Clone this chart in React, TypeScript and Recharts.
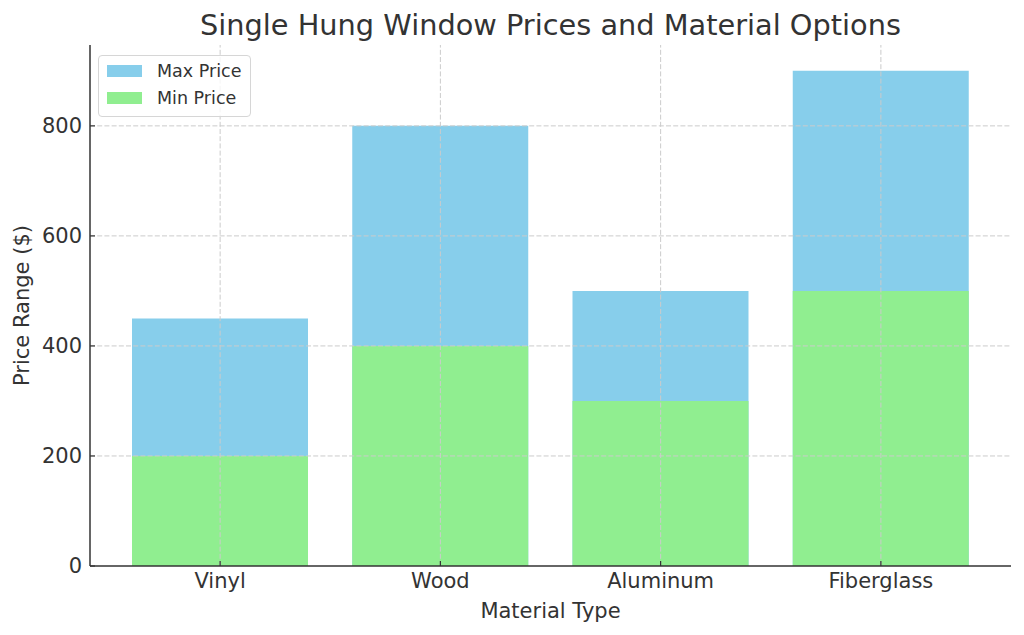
import React from 'react'
import {
  BarChart,
  Bar,
  XAxis,
  YAxis,
  ReferenceLine
} from 'recharts'

const materials = ['Vinyl', 'Wood', 'Aluminum', 'Fiberglass']
const maxPrices = [450, 800, 500, 900]
const minPrices = [200, 400, 300, 500]
const yTicks = [0, 200, 400, 600, 800]

const data = materials.map((name, i) => ({
  name,
  max: maxPrices[i],
  min: minPrices[i]
}))

const FONT = 'DejaVu Sans, sans-serif'
const TEXT = '#333333'
const GRID = '#cbcbcb'

const legendItems = [
  { label: 'Max Price', color: '#87CEEB' },
  { label: 'Min Price', color: '#90EE90' }
]

function LegendBox() {
  return (
    <div
      style={{
        position: 'absolute',
        left: 98,
        top: 55,
        width: 135,
        border: '1px solid #d6d6d6',
        borderRadius: 4,
        background: 'rgba(255,255,255,0.8)',
        padding: '1px 8px 5px 8px',
        fontFamily: FONT,
        fontSize: 17.5,
        color: TEXT,
        zIndex: 2
      }}
    >
      {legendItems.map((it) => (
        <div key={it.label} style={{ display: 'flex', alignItems: 'center', height: 27 }}>
          <span style={{ width: 35, height: 12, background: it.color, marginRight: 15, flexShrink: 0 }} />
          <span style={{ whiteSpace: 'nowrap' }}>{it.label}</span>
        </div>
      ))}
    </div>
  )
}

export default function App() {
  return (
    <div style={{ position: 'relative', width: 1024, height: 635, background: '#fff' }}>
      <style>{`body{margin:0}`}</style>
      <div
        style={{
          position: 'absolute',
          top: 8,
          left: 90,
          width: 921,
          textAlign: 'center',
          fontFamily: FONT,
          fontSize: 28.8,
          color: TEXT
        }}
      >
        Single Hung Window Prices and Material Options
      </div>
      <LegendBox />
      <BarChart
        width={1024}
        height={635}
        data={data}
        margin={{ top: 45, right: 13, bottom: 0, left: 0 }}
        barSize={176}
        barGap={-176}
      >
        <XAxis
          dataKey="name"
          height={69}
          padding={{ left: 20, right: 20 }}
          tickSize={-5}
          tickMargin={12}
          axisLine={{ stroke: TEXT, strokeWidth: 1.5 }}
          tickLine={{ stroke: TEXT, strokeWidth: 1.2 }}
          tick={{ fontFamily: FONT, fontSize: 21, fill: TEXT }}
          label={{
            value: 'Material Type',
            position: 'insideBottom',
            offset: 17,
            style: { fontFamily: FONT, fontSize: 21, fill: TEXT }
          }}
        />
        <YAxis
          width={90}
          domain={[0, 947]}
          ticks={yTicks}
          tickSize={-5}
          tickMargin={13}
          axisLine={{ stroke: TEXT, strokeWidth: 1.5 }}
          tickLine={{ stroke: TEXT, strokeWidth: 1.2 }}
          tick={{ fontFamily: FONT, fontSize: 21, fill: TEXT }}
          label={{
            value: 'Price Range ($)',
            angle: -90,
            position: 'insideLeft',
            offset: 22,
            style: { fontFamily: FONT, fontSize: 21, fill: TEXT, textAnchor: 'middle' }
          }}
        />
        <Bar dataKey="max" name="Max Price" fill="#87CEEB" isAnimationActive={false} />
        <Bar dataKey="min" name="Min Price" fill="#90EE90" isAnimationActive={false} />
        {yTicks.slice(1).map((t) => (
          <ReferenceLine key={'y' + t} y={t} stroke={GRID} strokeWidth={1} strokeDasharray="5 2.2" />
        ))}
        {materials.map((m) => (
          <ReferenceLine key={'x' + m} x={m} stroke={GRID} strokeWidth={1} strokeDasharray="5 2.2" />
        ))}
      </BarChart>
    </div>
  )
}
